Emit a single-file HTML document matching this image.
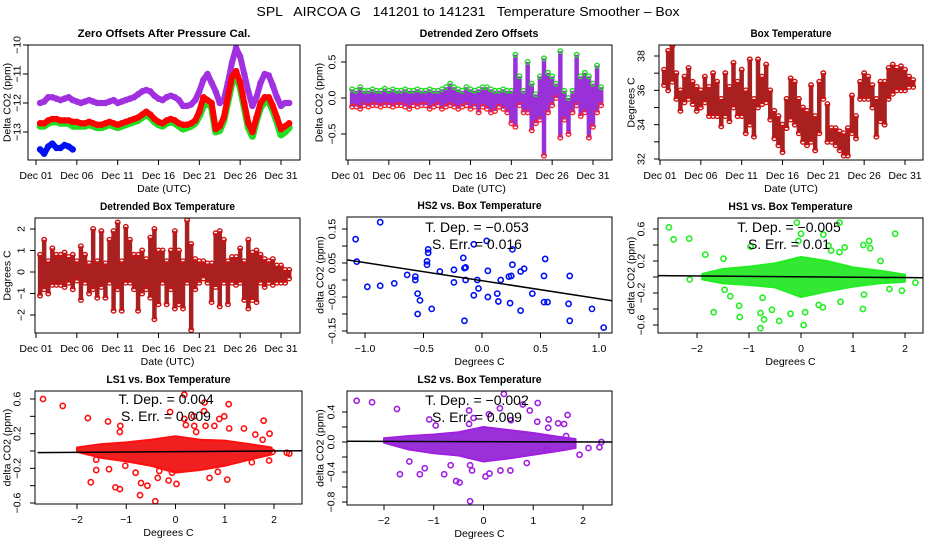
<!DOCTYPE html>
<html><head><meta charset="utf-8"><title>SPL AIRCOA G Temperature Smoother - Box</title>
<style>
html,body{margin:0;padding:0;background:#fff;}
svg{display:block;font-family:"Liberation Sans",Arial,sans-serif;}
</style></head>
<body>
<svg id="chart" xmlns="http://www.w3.org/2000/svg" width="936" height="540" viewBox="0 0 936 540">
<rect x="0" y="0" width="936" height="540" fill="#fff"/>
<text x="468" y="16" text-anchor="middle" font-size="13" textLength="423" lengthAdjust="spacingAndGlyphs" xml:space="preserve">SPL   AIRCOA G   141201 to 141231   Temperature Smoother – Box</text>
</svg>
<script>
// ---------- DATA ----------
const days = [1.5,2,2.5,3,3.5,4,4.5,5,5.5,6,6.5,7,7.5,8,8.5,9,9.5,10,10.5,11,11.5,12,12.5,13,13.5,14,14.5,15,15.5,16,16.5,17,17.5,18,18.5,19,19.5,20,20.5,21,21.5,22,22.5,23,23.5,24,24.5,25,25.5,26,26.5,27,27.5,28,28.5,29,29.5,30,30.5,31,31.5,32];
const dayTicks = [1,6,11,16,21,26,31];
const dayTickLabels = ["Dec 01","Dec 06","Dec 11","Dec 16","Dec 21","Dec 26","Dec 31"];

// Panel 1: zero offsets
const zeroPurple = [-12.0,-11.95,-11.8,-11.8,-11.85,-11.9,-11.85,-11.8,-11.9,-11.95,-12.0,-11.95,-11.9,-11.95,-12.0,-12.0,-12.0,-11.95,-11.9,-12.0,-11.95,-11.9,-11.85,-11.8,-11.7,-11.6,-11.55,-11.6,-11.75,-11.85,-11.9,-11.8,-11.75,-11.8,-11.9,-12.1,-12.1,-12.05,-11.9,-11.6,-11.2,-11.0,-11.3,-11.6,-12.0,-11.9,-11.3,-10.6,-10.1,-10.4,-11.0,-11.6,-12.1,-11.8,-11.3,-11.0,-11.05,-11.4,-11.8,-12.1,-12.0,-12.0];
const zeroGreen = [-12.8,-12.8,-12.7,-12.65,-12.65,-12.7,-12.7,-12.7,-12.8,-12.8,-12.8,-12.8,-12.75,-12.8,-12.85,-12.85,-12.8,-12.75,-12.8,-12.85,-12.8,-12.75,-12.7,-12.65,-12.6,-12.5,-12.4,-12.5,-12.65,-12.75,-12.8,-12.7,-12.65,-12.7,-12.8,-12.9,-12.85,-12.8,-12.7,-12.45,-12.1,-12.0,-12.15,-13.0,-12.95,-12.6,-11.95,-11.3,-11.05,-11.45,-12.15,-12.85,-13.15,-12.6,-12.15,-11.95,-11.95,-12.25,-12.65,-13.1,-13.0,-12.85];
const zeroRed = [-12.7,-12.7,-12.6,-12.55,-12.55,-12.6,-12.6,-12.6,-12.65,-12.65,-12.7,-12.7,-12.65,-12.7,-12.75,-12.75,-12.7,-12.65,-12.7,-12.75,-12.7,-12.65,-12.6,-12.55,-12.5,-12.4,-12.3,-12.4,-12.55,-12.65,-12.7,-12.6,-12.55,-12.6,-12.7,-12.75,-12.75,-12.7,-12.6,-12.3,-11.8,-11.9,-12.0,-12.9,-12.8,-12.5,-11.8,-11.1,-10.9,-11.3,-12.0,-12.7,-13.0,-12.5,-12.0,-11.8,-11.8,-12.1,-12.5,-12.9,-12.8,-12.7];
const blueDays = [1.5,2,2.5,3,3.5,4,4.5,5,5.5];
const zeroBlue = [-13.6,-13.75,-13.5,-13.4,-13.55,-13.55,-13.45,-13.5,-13.6];

// Panel 2: detrended zero offsets (half-day extents)
const detHi = [0.12,0.1,0.15,0.1,0.1,0.12,0.1,0.1,0.13,0.1,0.12,0.1,0.1,0.12,0.1,0.1,0.12,0.1,0.1,0.12,0.1,0.1,0.12,0.15,0.2,0.15,0.12,0.1,0.15,0.12,0.1,0.12,0.15,0.15,0.12,0.1,0.1,0.12,0.1,0.1,0.6,0.3,0.1,0.5,0.2,0.05,0.3,0.55,0.35,0.3,0.2,0.65,0.1,0.0,0.1,0.6,0.3,0.35,0.3,0.2,0.45,0.15];
const detLo = [-0.12,-0.12,-0.15,-0.1,-0.12,-0.1,-0.1,-0.12,-0.1,-0.1,-0.12,-0.1,-0.1,-0.12,-0.15,-0.1,-0.12,-0.1,-0.1,-0.15,-0.12,-0.1,-0.15,-0.12,-0.1,-0.12,-0.15,-0.12,-0.1,-0.15,-0.12,-0.2,-0.12,-0.15,-0.2,-0.18,-0.12,-0.15,-0.2,-0.35,-0.4,-0.1,-0.2,-0.2,-0.45,-0.35,-0.3,-0.8,-0.2,-0.1,0.0,-0.55,-0.3,-0.5,-0.2,-0.1,-0.25,-0.2,-0.55,-0.4,-0.2,-0.1];

// Panel 3: box temperature extents
const boxHi = [37.2,38.3,38.6,37,36,36.8,37.3,36.5,36.2,36,36.8,36.2,37,36.5,35.5,37,36.2,37.6,36.5,37.2,36,37.8,35.5,37.8,36.8,37.5,36,34.8,34.5,34,35.5,36.7,36.5,35.5,35,34.8,36.3,34.5,36.5,37,35.2,33.8,33.8,33.6,33.5,33.8,35.7,34.5,36.5,37,36.8,36.3,35.5,36.5,36.5,37.3,37.5,37.3,37.4,37.2,36.8,36.6];
const boxLo = [36.3,36.0,36.5,35.5,34.8,35.3,35.5,35.2,34.8,35,35.3,34.5,34.5,34.5,33.9,34.5,34.2,35,34.5,34.5,33.5,34,33.3,35,35.2,35.3,34.3,33.2,32.8,32.4,33.8,34.3,34,33.5,33,32.8,33,32.5,33.5,35.5,33,33,32.8,32.5,32.2,32.2,33.5,33.2,35.5,35.5,35.5,35,33.3,34.2,34,35.5,35.8,36,36,36,36.2,36.2];

// Panel 4: detrended box temperature extents
const dboxHi = [0.8,1.5,0.5,1.1,0.8,0.8,0.9,0.7,0.8,0.5,1.2,0.8,0.4,2.0,0.5,1.9,0.4,1.5,1.9,2.3,0.5,2.1,1.5,0.8,0.8,1.0,0.6,1.6,2.0,1.0,1.0,0.5,1.0,1.9,1.0,0.5,2.4,1.3,0.6,0.5,0.5,0.4,0.4,1.8,1.9,1.5,0.5,0.7,0.7,1.1,0.5,1.5,0.9,1.0,0.8,0.6,0.5,0.6,0.3,0.3,0.1,0.1];
const dboxLo = [-1.1,-0.8,-1,-0.6,-0.6,-0.6,-0.7,-0.5,-0.8,-0.4,-1.3,-0.5,-1,-0.8,-1.2,-0.7,-1.2,-0.5,-1.8,-0.8,-1.8,-0.5,-0.5,-0.8,-1.8,-1,-0.8,-1.2,-2.2,-1.5,-0.5,-1.5,-0.8,-1.7,-1.5,-1.7,-0.5,-2.7,-0.8,-0.5,-0.3,-0.5,-1.4,-0.7,-1.6,-0.5,-1.5,-0.5,-0.6,-0.5,-1.3,-1.7,-1.3,-1.4,-0.5,-0.7,-0.5,-0.6,-0.5,-0.5,-0.5,-0.3];

// Panel 5: HS2 scatter
const hs2X = [-1.08,-0.87,-1.07,-0.98,-0.87,-0.75,-0.64,-0.57,-0.57,-0.55,-0.53,-0.55,-0.46,-0.46,-0.47,-0.47,-0.43,-0.36,-0.24,-0.24,-0.16,-0.15,-0.14,-0.14,-0.15,-0.07,-0.07,-0.04,-0.03,0.04,0.05,0.05,0.13,0.14,0.16,0.23,0.25,0.24,0.26,0.26,0.33,0.36,0.33,0.43,0.53,0.53,0.56,0.54,0.75,0.74,0.75,0.94,1.04];
const hs2Y = [0.12,0.17,0.054,-0.02,-0.017,-0.01,0.015,0.01,0.0,-0.04,-0.06,-0.10,0.09,0.08,0.055,0.045,-0.085,0.025,0.03,-0.007,0.065,0.035,0.037,0.0,-0.12,0.105,-0.045,0.0,-0.025,0.115,0.027,-0.05,-0.04,-0.063,0.0,0.01,0.012,-0.068,0.09,0.045,0.025,0.033,-0.09,-0.04,0.012,-0.065,-0.065,0.062,0.012,-0.07,-0.12,-0.085,-0.14];
const hs2Fit = [-0.002,-0.053]; // intercept, slope

// Panel 6: HS1 scatter
const hs1BinX = [-1.9,-1.5,-1.0,-0.5,0.0,0.5,1.0,1.5,2.0];
const hs1BinLo = [-0.03,-0.08,-0.1,-0.13,-0.25,-0.18,-0.12,-0.08,-0.06];
const hs1BinHi = [0.04,0.1,0.13,0.17,0.25,0.2,0.12,0.08,0.03];
const hs1X = [-2.54,-2.45,-2.15,-2.14,-1.84,-1.68,-1.49,-1.47,-1.36,-1.19,-1.18,-0.97,-0.78,-0.78,-0.74,-0.71,-0.56,-0.42,-0.20,-0.08,-0.05,0.0,0.05,0.08,0.34,0.42,0.43,0.53,0.58,0.74,0.74,0.84,0.76,1.19,1.20,1.31,1.33,1.21,1.53,1.81,1.94,2.2,1.7,1.63];
const hs1Y = [0.62,0.47,0.48,-0.03,0.28,-0.44,0.23,-0.16,-0.24,-0.36,-0.50,0.38,-0.45,-0.64,-0.26,-0.53,-0.41,-0.55,-0.46,0.68,0.45,0.54,-0.60,-0.44,-0.35,-0.38,0.53,0.39,0.33,0.68,0.31,0.37,-0.31,-0.40,0.40,0.45,0.36,-0.22,0.20,0.54,-0.17,-0.07,-0.15,0.0];
const hs1Fit = [0.003,-0.005];

// Panel 7: LS1 scatter
const ls1BinX = [-2.0,-1.5,-1.0,-0.5,0.0,0.5,1.0,1.5,1.95];
const ls1BinLo = [-0.01,-0.08,-0.12,-0.17,-0.25,-0.22,-0.17,-0.1,-0.04];
const ls1BinHi = [0.04,0.08,0.1,0.13,0.17,0.13,0.12,0.08,0.04];
const ls1X = [-2.69,-2.29,-1.78,-1.72,-1.61,-1.61,-1.37,-1.35,-1.22,-1.13,-1.12,-1.13,-1.02,-0.81,-0.72,-0.70,-0.57,-0.41,-0.33,-0.36,-0.14,-0.11,-0.07,0.02,0.18,0.18,0.21,0.37,0.38,0.42,0.59,0.58,0.61,0.69,0.79,0.86,0.89,0.99,1.05,1.08,1.09,1.39,1.55,1.62,1.79,1.77,1.91,1.90,1.97,2.26,2.31];
const ls1Y = [0.60,0.52,0.38,-0.36,-0.10,-0.22,0.34,-0.21,-0.42,-0.44,0.29,0.22,-0.17,-0.25,-0.51,-0.37,-0.40,-0.58,-0.23,-0.31,-0.34,0.45,-0.25,-0.38,0.65,0.37,0.30,0.40,0.29,0.22,0.56,0.46,0.29,-0.31,0.29,-0.24,0.37,0.40,-0.33,0.54,0.26,0.26,-0.13,0.19,0.35,0.13,0.20,-0.11,-0.01,-0.02,-0.03];
const ls1Fit = [-0.008,0.004];

// Panel 8: LS2 scatter
const ls2BinX = [-2.0,-1.5,-1.0,-0.5,0.0,0.5,1.0,1.5,1.85];
const ls2BinLo = [-0.01,-0.1,-0.15,-0.18,-0.26,-0.22,-0.17,-0.12,-0.08];
const ls2BinHi = [0.05,0.08,0.1,0.13,0.2,0.16,0.12,0.07,0.04];
const ls2X = [-2.55,-2.24,-1.74,-1.68,-1.49,-1.28,-1.18,-1.09,-0.96,-0.79,-0.66,-0.55,-0.48,-0.29,-0.29,-0.27,-0.27,-0.23,-0.20,0.04,0.12,0.11,0.33,0.41,0.34,0.54,0.55,0.79,0.87,0.93,1.08,1.09,1.26,1.31,1.30,1.50,1.62,1.69,1.93,2.11,2.33,2.37,1.66];
const ls2Y = [0.55,0.53,0.44,-0.43,-0.26,-0.43,-0.35,0.30,0.22,-0.43,-0.31,-0.52,-0.54,0.42,0.24,-0.79,-0.31,-0.38,0.32,-0.46,-0.42,0.37,0.45,0.64,-0.38,-0.38,0.29,0.50,-0.28,0.42,0.27,0.52,-0.10,0.30,0.19,0.25,0.24,0.36,-0.17,-0.08,-0.07,0.0,0.08];
const ls2Fit = [0.005,-0.002];

// ---------- DRAWING ----------
const NS = "http://www.w3.org/2000/svg";
const svg = document.getElementById("chart");
function mk(parent, tag, attrs, txt) {
  const e = document.createElementNS(NS, tag);
  for (const k in attrs) e.setAttribute(k, attrs[k]);
  if (txt !== undefined) e.textContent = txt;
  parent.appendChild(e);
  return e;
}
function lin(d0, p0, d1, p1) { return v => p0 + (v - d0) * (p1 - p0) / (d1 - d0); }
let clipId = 0;

function panel(o) {
  const g = mk(svg, "g", {});
  
  
  const [x0, y0, x1, y1] = o.box;
  clipId++;
  const cp = mk(g, "clipPath", { id: "clip" + clipId });
  mk(cp, "rect", { x: x0, y: y0, width: x1 - x0, height: y1 - y0 });
  const marks = mk(g, "g", { "clip-path": "url(#clip" + clipId + ")" });
  
  
  const t = mk(g, "text", { x: (x0 + x1) / 2, y: y0 - 8, "text-anchor": "middle", "font-size": 11, "font-weight": "bold", textLength: o.title.length * 5.4, lengthAdjust: "spacingAndGlyphs" }, o.title);
  
  
  const xa = mk(g, "g", {});
  
  
  mk(xa, "line", { x1: o.xs(o.xt[0]), x2: o.xs(o.xt[o.xt.length - 1]), y1: y1, y2: y1, stroke: "#000" });
  o.xt.forEach((v, i) => {
    const X = o.xs(v);
    mk(xa, "line", { x1: X, x2: X, y1: y1, y2: y1 + 5, stroke: "#000" });
    const lab = mk(xa, "text", { x: X, y: y1 + 19, "text-anchor": "middle", "font-size": 10.5 }, o.xl[i]);
    
    
  });
  const xt = mk(g, "text", { x: (x0 + x1) / 2, y: y1 + 32, "text-anchor": "middle", "font-size": 10.5 }, o.xtitle);
  
  
  const ya = mk(g, "g", {});
  
  
  mk(ya, "line", { x1: x0, x2: x0, y1: o.ys(o.yt[0]), y2: o.ys(o.yt[o.yt.length - 1]), stroke: "#000" });
  o.yt.forEach(v => {
    const Y = o.ys(v);
    mk(ya, "line", { x1: x0 - 5, x2: x0, y1: Y, y2: Y, stroke: "#000" });
  });
  o.ylv.forEach((v, i) => {
    const Y = o.ys(v);
    const lab = mk(ya, "text", { x: o.labX, y: Y, "text-anchor": "middle", "font-size": 10.5, transform: "rotate(-90 " + o.labX + " " + Y + ")", dy: "0.35em" }, o.yl[i]);
    
    
  });
  const yc = (y0 + y1) / 2;
  const yt = mk(g, "text", { x: o.titX, y: yc, "text-anchor": "middle", "font-size": 10.5, transform: "rotate(-90 " + o.titX + " " + yc + ")", dy: "0.35em" }, o.ytitle);
  
  
  mk(g, "rect", { x: x0, y: y0, width: x1 - x0, height: y1 - y0, fill: "none", stroke: "#000" });
  return marks;
}

function lineSeries(m, xs, ys, X, Y, color, w, name) {
  const pts = X.map((v, i) => xs(v) + "," + ys(Y[i])).join(" ");
  const pl = mk(m, "polyline", { points: pts, fill: "none", stroke: color, "stroke-width": w, "stroke-linejoin": "round", "stroke-linecap": "round" });
  
  
  X.forEach((v, i) => {
    const c = mk(m, "circle", { cx: xs(v), cy: ys(Y[i]), r: 2.5, fill: "none", stroke: color, "stroke-width": 1.5 });
    
    
  });
}
function bandSeries(m, xs, ys, X, Lo, Hi, color, w, name, c1, c2) {
  X.forEach((v, i) => {
    const l = mk(m, "line", { x1: xs(v), x2: xs(v), y1: ys(Lo[i]), y2: ys(Hi[i]), stroke: color, "stroke-width": w });
    
    
    const a = mk(m, "circle", { cx: xs(v), cy: ys(Hi[i]), r: 2.3, fill: "none", stroke: c1, "stroke-width": 1.4 });
    
    
    const b = mk(m, "circle", { cx: xs(v), cy: ys(Lo[i]), r: 2.3, fill: "none", stroke: c2, "stroke-width": 1.4 });
    
    
  });
}
function scatter(m, xs, ys, o) {
  if (o.binX) {
    const top = o.binX.map((v, i) => xs(v) + "," + ys(o.binHi[i]));
    const bot = o.binX.map((v, i) => xs(v) + "," + ys(o.binLo[i])).reverse();
    const pg = mk(m, "polygon", { points: top.concat(bot).join(" "), fill: o.fill, stroke: o.color, "stroke-width": 2, "stroke-linejoin": "round" });
    
    
  }
  o.X.forEach((v, i) => {
    const c = mk(m, "circle", { cx: xs(v), cy: ys(o.Y[i]), r: 2.6, fill: "none", stroke: o.color, "stroke-width": 1.6 });
    
    
  });
  const [a, b] = o.fit, d = o.dom;
  const fl = mk(m, "line", { x1: xs(d[0]), x2: xs(d[1]), y1: ys(a + b * d[0]), y2: ys(a + b * d[1]), stroke: "#000", "stroke-width": 1.5 });
  
  
}
function annot(cx, y, dep, err, name) {
  const t1 = mk(svg, "text", { x: cx, y: y, "text-anchor": "middle", "font-size": 14, "xml:space": "preserve" }, "T. Dep. =  " + dep);
  
  
  const t2 = mk(svg, "text", { x: cx, y: y + 17, "text-anchor": "middle", "font-size": 14, "xml:space": "preserve" }, "S. Err. =  " + err);
  
  
}

// Panel 1
(function () {
  const xs = lin(1, 36, 31, 281), ys = lin(-10, 45, -13, 132);
  const m = panel({ name: "zero-offsets-panel", title: "Zero Offsets After Pressure Cal.", box: [28, 45, 300, 160], xs, ys,
    xt: dayTicks, xl: dayTickLabels, yt: [-10, -11, -12, -13], ylv: [-10, -11, -12, -13], yl: ["−10", "−11", "−12", "−13"],
    labX: 17, titX: 7, xtitle: "Date (UTC)", ytitle: "Delta CO2 (ppm)" });
  lineSeries(m, xs, ys, days, zeroPurple, "#a030e0", 6, "purple-series");
  lineSeries(m, xs, ys, days, zeroGreen, "#22dd22", 7, "green-series");
  lineSeries(m, xs, ys, days, zeroRed, "#ff0000", 6, "red-series");
  lineSeries(m, xs, ys, blueDays, zeroBlue, "#0010f0", 6, "blue-series");
})();
// Panel 2
(function () {
  const xs = lin(1, 348, 31, 593), ys = lin(0.5, 62, -0.5, 134);
  const m = panel({ name: "detrended-zero-panel", title: "Detrended Zero Offsets", box: [346, 45, 612, 160], xs, ys,
    xt: dayTicks, xl: dayTickLabels, yt: [-0.5, 0, 0.5], ylv: [-0.5, 0, 0.5], yl: ["−0.5", "0.0", "0.5"],
    labX: 332, titX: 319, xtitle: "Date (UTC)", ytitle: "Delta CO2 (ppm)" });
  bandSeries(m, xs, ys, days, detLo, detHi, "#9a30d8", 4.5, "detrended-zero", "#22dd22", "#ff2020");
})();
// Panel 3
(function () {
  const xs = lin(1, 660, 31, 905), ys = lin(38, 56, 32, 159);
  const m = panel({ name: "box-temperature-panel", title: "Box Temperature", box: [659, 45, 923, 160], xs, ys,
    xt: dayTicks, xl: dayTickLabels, yt: [32, 33, 34, 35, 36, 37, 38], ylv: [32, 34, 36, 38], yl: ["32", "34", "36", "38"],
    labX: 641, titX: 631, xtitle: "Date (UTC)", ytitle: "Degrees C" });
  bandSeries(m, xs, ys, days, boxLo, boxHi, "#a82020", 4.5, "box-temp", "#d01010", "#d01010");
})();
// Panel 4
(function () {
  const xs = lin(1, 36, 31, 281), ys = lin(2, 229, -2, 315);
  const m = panel({ name: "detrended-box-panel", title: "Detrended Box Temperature", box: [35, 218, 300, 333], xs, ys,
    xt: dayTicks, xl: dayTickLabels, yt: [-2, -1, 0, 1, 2], ylv: [-2, -1, 0, 1, 2], yl: ["−2", "−1", "0", "1", "2"],
    labX: 21, titX: 7, xtitle: "Date (UTC)", ytitle: "Degrees C" });
  bandSeries(m, xs, ys, days, dboxLo, dboxHi, "#a82020", 4.5, "detrended-box-temp", "#d01010", "#d01010");
})();
// Panel 5
(function () {
  const xs = lin(-1, 365, 1, 599), ys = lin(0.15, 229, -0.15, 331);
  const m = panel({ name: "hs2-panel", title: "HS2 vs. Box Temperature", box: [347, 217, 612, 333], xs, ys,
    xt: [-1, -0.5, 0, 0.5, 1], xl: ["−1.0", "−0.5", "0.0", "0.5", "1.0"], yt: [-0.15, -0.1, -0.05, 0, 0.05, 0.1, 0.15], ylv: [-0.15, -0.05, 0.05, 0.15], yl: ["−0.15", "−0.05", "0.05", "0.15"],
    labX: 332, titX: 320, xtitle: "Degrees C", ytitle: "delta CO2 (ppm)" });
  annot(477, 232, "−0.053", "0.016", "hs2");
  scatter(m, xs, ys, { name: "hs2", X: hs2X, Y: hs2Y, color: "#0010f0", fit: hs2Fit, dom: [-1.2, 1.2] });
})();
// Panel 6
(function () {
  const xs = lin(-2, 697, 2, 905), ys = lin(0.6, 229, -0.6, 325);
  const m = panel({ name: "hs1-panel", title: "HS1 vs. Box Temperature", box: [658, 218, 923, 333], xs, ys,
    xt: [-2, -1, 0, 1, 2], xl: ["−2", "−1", "0", "1", "2"], yt: [-0.6, -0.4, -0.2, 0, 0.2, 0.4, 0.6], ylv: [-0.6, -0.2, 0.2, 0.6], yl: ["−0.6", "−0.2", "0.2", "0.6"],
    labX: 641, titX: 631, xtitle: "Degrees C", ytitle: "delta CO2 (ppm)" });
  annot(789, 232, "−0.005", "0.01", "hs1");
  scatter(m, xs, ys, { name: "hs1", X: hs1X, Y: hs1Y, binX: hs1BinX, binLo: hs1BinLo, binHi: hs1BinHi, color: "#22ee22", fill: "#33e833", fit: hs1Fit, dom: [-2.8, 2.5] });
})();
// Panel 7
(function () {
  const xs = lin(-2, 77, 2, 274), ys = lin(0.6, 399, -0.6, 503);
  const m = panel({ name: "ls1-panel", title: "LS1 vs. Box Temperature", box: [35, 391, 302, 504], xs, ys,
    xt: [-2, -1, 0, 1, 2], xl: ["−2", "−1", "0", "1", "2"], yt: [-0.6, -0.4, -0.2, 0, 0.2, 0.4, 0.6], ylv: [-0.6, -0.2, 0.2, 0.6], yl: ["−0.6", "−0.2", "0.2", "0.6"],
    labX: 17, titX: 7, xtitle: "Degrees C", ytitle: "delta CO2 (ppm)" });
  annot(166, 404, "0.004", "0.009", "ls1");
  scatter(m, xs, ys, { name: "ls1", X: ls1X, Y: ls1Y, binX: ls1BinX, binLo: ls1BinLo, binHi: ls1BinHi, color: "#ff1010", fill: "#f02020", fit: ls1Fit, dom: [-2.8, 2.6] });
})();
// Panel 8
(function () {
  const xs = lin(-2, 384, 2, 583), ys = lin(0.4, 412, -0.8, 502);
  const m = panel({ name: "ls2-panel", title: "LS2 vs. Box Temperature", box: [347, 391, 612, 505], xs, ys,
    xt: [-2, -1, 0, 1, 2], xl: ["−2", "−1", "0", "1", "2"], yt: [-0.8, -0.6, -0.4, -0.2, 0, 0.2, 0.4], ylv: [-0.8, -0.4, 0, 0.4], yl: ["−0.8", "−0.4", "0.0", "0.4"],
    labX: 331, titX: 320, xtitle: "Degrees C", ytitle: "delta CO2 (ppm)" });
  annot(477, 405, "−0.002", "0.009", "ls2");
  scatter(m, xs, ys, { name: "ls2", X: ls2X, Y: ls2Y, binX: ls2BinX, binLo: ls2BinLo, binHi: ls2BinHi, color: "#a020e0", fill: "#9a30d8", fit: ls2Fit, dom: [-2.8, 2.7] });
})();
</script>
</body></html>
